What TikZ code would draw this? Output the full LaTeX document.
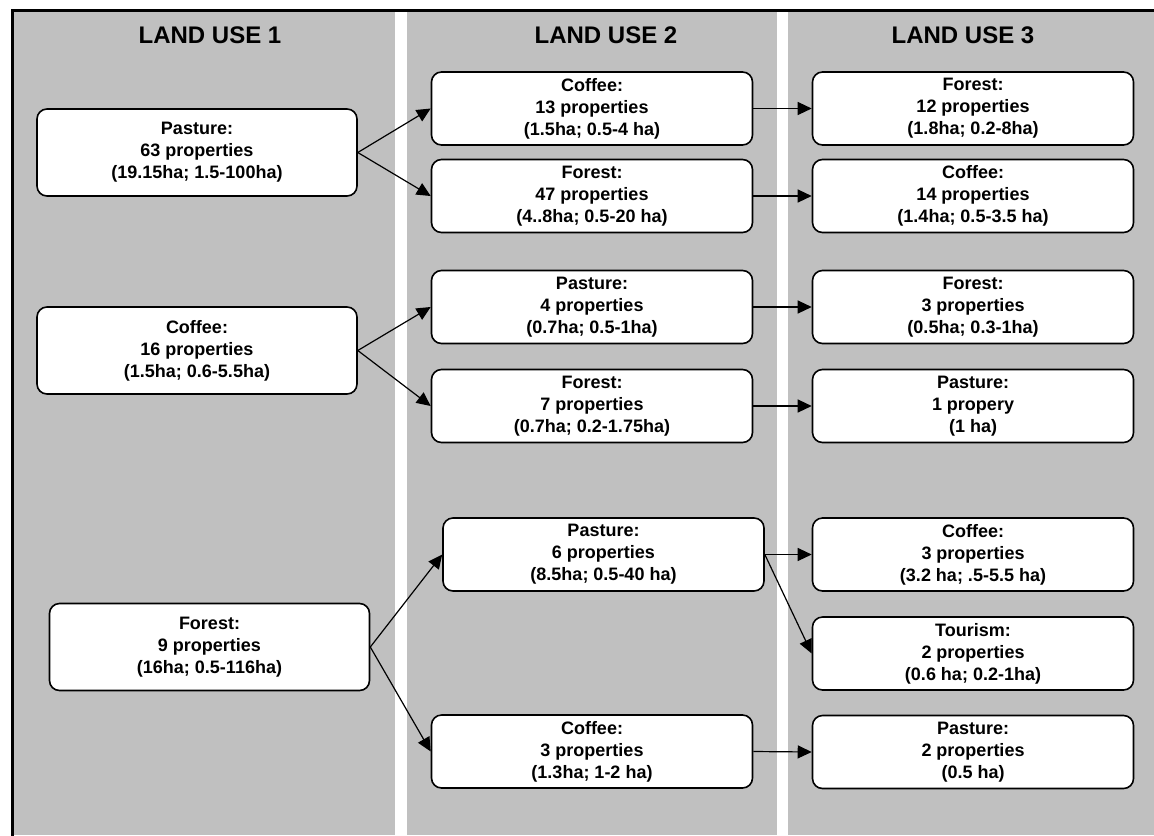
\documentclass[tikz,border=0pt]{standalone}
\usepackage{fontspec}
\setmainfont{Liberation Sans}
\usetikzlibrary{arrows.meta}
\definecolor{colgrey}{RGB}{192,192,192}
\tikzset{
  landbox/.style={draw, fill=white, rounded corners=5pt, line width=0.8pt,
    align=center, inner sep=2pt,
    font=\fontsize{9}{11}\selectfont\bfseries,
    minimum width=160.5pt, minimum height=36.5pt},
  firstbox/.style={landbox, minimum width=160pt, minimum height=43.5pt},
  heading/.style={font=\fontsize{12}{14}\selectfont\bfseries},
  flow/.style={-{Triangle[length=7pt,width=6.5pt]}, line width=0.6pt}
}

\begin{document}
\begin{tikzpicture}[x=0.5pt, y=-0.5pt]

\useasboundingbox (0,0) rectangle (1154,835);

% Columns
\foreach \i/\xa/\xb/\xt in {1/12/395/210, 2/407/777/606, 3/788/1154/963}
{
  \fill[colgrey] (\xa,10) rectangle (\xb,835);
  \node[heading] (Title-\i) at (\xt,35) {LAND USE \i};
}

% Frame
\draw[line width=1.5pt] (12,850) -- (12,10) -- (1160,10);

% Land use 1
\node[firstbox] (Use1-1) at (197,152.5) {Pasture:\\63 properties\\(19.15ha; 1.5-100ha)};
\node[firstbox] (Use1-2) at (197,350.5) {Coffee:\\16 properties\\(1.5ha; 0.6-5.5ha)};
\node[firstbox] (Use1-3) at (209.5,647) {Forest:\\9 properties\\(16ha; 0.5-116ha)};

% Land use 2
\node[landbox] (Use2-1) at (592,108.5) {Coffee:\\13 properties\\(1.5ha; 0.5-4 ha)};
\node[landbox] (Use2-2) at (592,196) {Forest:\\47 properties\\(4..8ha; 0.5-20 ha)};
\node[landbox] (Use2-3) at (592,307) {Pasture:\\4 properties\\(0.7ha; 0.5-1ha)};
\node[landbox] (Use2-4) at (592,406) {Forest:\\7 properties\\(0.7ha; 0.2-1.75ha)};
\node[landbox] (Use2-5) at (603.5,554.5) {Pasture:\\6 properties\\(8.5ha; 0.5-40 ha)};
\node[landbox] (Use2-6) at (592,751.5) {Coffee:\\3 properties\\(1.3ha; 1-2 ha)};

% Land use 3
\node[landbox] (Use3-1) at (973,108.5) {Forest:\\12 properties\\(1.8ha; 0.2-8ha)};
\node[landbox] (Use3-2) at (973,196) {Coffee:\\14 properties\\(1.4ha; 0.5-3.5 ha)};
\node[landbox] (Use3-3) at (973,307) {Forest:\\3 properties\\(0.5ha; 0.3-1ha)};
\node[landbox] (Use3-4) at (973,406) {Pasture:\\1 propery\\(1 ha)};
\node[landbox] (Use3-5) at (973,554.5) {Coffee:\\3 properties\\(3.2 ha; .5-5.5 ha)};
\node[landbox] (Use3-6) at (973,653.5) {Tourism:\\2 properties\\(0.6 ha; 0.2-1ha)};
\node[landbox] (Use3-7) at (973,752) {Pasture:\\2 properties\\(0.5 ha)};

% Connect 1 -> 2
\foreach \i/\j in {1/1, 1/2, 2/3, 2/4, 3/5, 3/6}
{
  \draw[flow] (Use1-\i.east) -- (Use2-\j.west);
}

% Connect 2 -> 3
\foreach \i/\j in {1/1, 2/2, 3/3, 4/4, 5/5, 5/6, 6/7}
{
  \draw[flow] (Use2-\i.east) -- (Use3-\j.west);
}

\end{tikzpicture}
\end{document}
